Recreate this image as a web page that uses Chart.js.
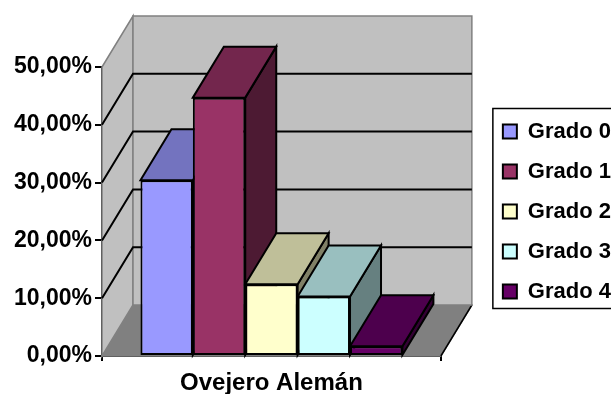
<!DOCTYPE html>
<html>
<head>
<meta charset="utf-8">
<script src="https://cdn.jsdelivr.net/npm/chart.js@4/dist/chart.umd.min.js"></script>
<style>
  html, body { margin: 0; padding: 0; background: #fff; }
</style>
</head>
<body>
<canvas id="chart" width="611" height="394"></canvas>
<script>
// Data
const categories = ['Ovejero Alemán'];
const seriesNames = ['Grado 0', 'Grado 1', 'Grado 2', 'Grado 3', 'Grado 4'];
const seriesValues = [30.4, 44.7, 12.4, 10.3, 1.7];
const yTicks = [0, 10, 20, 30, 40, 50];

// Styles
const seriesColors = ['#9999FF', '#993366', '#FFFFCC', '#CCFFFF', '#660066'];
const FONT = '"Liberation Sans", Arial, sans-serif';
const DX = 31, DY = -51; // depth offset of the 3D box

function shade(hex, f) {
    const n = parseInt(hex.slice(1), 16);
    const r = Math.round(((n >> 16) & 255) * f);
    const g = Math.round(((n >> 8) & 255) * f);
    const b = Math.round((n & 255) * f);
    return `rgb(${r},${g},${b})`;
}

function poly(ctx, pts, fill, stroke, lw) {
    ctx.beginPath();
    ctx.moveTo(pts[0][0], pts[0][1]);
    for (let i = 1; i < pts.length; i++) ctx.lineTo(pts[i][0], pts[i][1]);
    ctx.closePath();
    if (fill) { ctx.fillStyle = fill; ctx.fill(); }
    if (stroke) { ctx.strokeStyle = stroke; ctx.lineWidth = lw; ctx.stroke(); }
}

function line(ctx, pts, color, lw) {
    ctx.beginPath();
    ctx.moveTo(pts[0][0], pts[0][1]);
    for (let i = 1; i < pts.length; i++) ctx.lineTo(pts[i][0], pts[i][1]);
    ctx.strokeStyle = color;
    ctx.lineWidth = lw;
    ctx.stroke();
}

// Walls, floor, gridlines and the side/top faces of the bars
const box3d = {
    id: 'box3d',
    beforeDatasetsDraw(chart) {
        const { ctx, chartArea: a, scales: { y } } = chart;
        const L = a.left, R = a.right;
        const B = y.getPixelForValue(yTicks[0]);
        const T = y.getPixelForValue(yTicks[yTicks.length - 1]);
        ctx.save();
        ctx.lineJoin = 'miter';
        // floor
        poly(ctx, [[L, B], [L + DX, B + DY], [R + DX, B + DY], [R, B]], '#808080', '#808080', 1.5);
        line(ctx, [[R, B], [R + DX, B + DY]], '#000', 1.5);
        // side wall
        poly(ctx, [[L, T], [L + DX, T + DY], [L + DX, B + DY], [L, B]], '#C0C0C0', '#808080', 1.5);
        // back wall
        poly(ctx, [[L + DX, T + DY], [R + DX, T + DY], [R + DX, B + DY], [L + DX, B + DY]], '#C0C0C0', '#808080', 1.5);
        // gridlines
        yTicks.slice(1, -1).forEach(v => {
            const py = y.getPixelForValue(v);
            line(ctx, [[L, py], [L + DX, py + DY], [R + DX, py + DY]], '#000', 2);
        });
        // bar sides and tops, left to right
        chart.data.datasets.forEach((ds, i) => {
            const meta = chart.getDatasetMeta(i);
            meta.data.forEach(bar => {
                const p = bar.getProps(['x', 'y', 'base', 'width']);
                const left = p.x - p.width / 2, right = p.x + p.width / 2;
                const top = p.y, base = p.base;
                poly(ctx, [[right, top], [right + DX, top + DY], [right + DX, base + DY], [right, base]],
                    shade(seriesColors[i], 0.5), '#000', 2);
                poly(ctx, [[left, top], [left + DX, top + DY], [right + DX, top + DY], [right, top]],
                    shade(seriesColors[i], 0.75), '#000', 2);
            });
        });
        ctx.restore();
    },
    afterDraw(chart) {
        // frame round the legend
        const lg = chart.legend;
        if (!lg || !lg.legendHitBoxes.length) return;
        const hb = lg.legendHitBoxes;
        const first = hb[0], last = hb[hb.length - 1];
        const top = first.top - 12;
        const bottom = last.top + last.height + 6;
        const ctx = chart.ctx;
        ctx.save();
        ctx.strokeStyle = '#000';
        ctx.lineWidth = 1.5;
        ctx.strokeRect(first.left - 10, top, 200, bottom - top);
        ctx.restore();
    }
};

const datasets = seriesNames.map((name, i) => ({
    label: name,
    data: [seriesValues[i]],
    backgroundColor: seriesColors[i],
    borderColor: '#000',
    borderWidth: 2,
    borderSkipped: false,
    categoryPercentage: 0.773,
    barPercentage: 1
}));

new Chart(document.getElementById('chart'), {
    type: 'bar',
    data: { labels: categories, datasets },
    options: {
        responsive: false,
        animation: false,
        layout: { padding: { top: 67, left: 0, right: -10, bottom: 0 } },
        plugins: {
            tooltip: { enabled: false },
            legend: {
                position: 'right',
                fullSize: false,
                maxWidth: 200,
                labels: {
                    boxWidth: 14,
                    boxHeight: 14,
                    padding: 18,
                    color: '#000',
                    font: { family: FONT, size: 22, weight: 'bold' }
                }
            }
        },
        scales: {
            x: {
                grid: { display: true, drawOnChartArea: false, tickLength: 5, color: '#000', lineWidth: 2 },
                border: { display: true, color: '#000', width: 2 },
                ticks: { color: '#000', padding: 8, font: { family: FONT, size: 24, weight: 'bold' } },
                afterFit(s) { s.height = 38; }
            },
            y: {
                min: yTicks[0],
                max: yTicks[yTicks.length - 1],
                ticks: {
                    stepSize: 10,
                    padding: 3,
                    color: '#000',
                    font: { family: FONT, size: 23, weight: 'bold' },
                    callback: v => v.toFixed(2).replace('.', ',') + '%'
                },
                grid: { display: true, drawOnChartArea: false, tickLength: 7, color: '#000', lineWidth: 2 },
                border: { display: true, color: '#000', width: 2 },
                afterFit(s) { s.width = 102; }
            },
            gap: {
                type: 'linear',
                position: 'right',
                display: true,
                grid: { display: false },
                border: { display: false },
                ticks: { display: false },
                afterFit(s) { s.width = 44; }
            }
        }
    },
    plugins: [box3d]
});
</script>
</body>
</html>
